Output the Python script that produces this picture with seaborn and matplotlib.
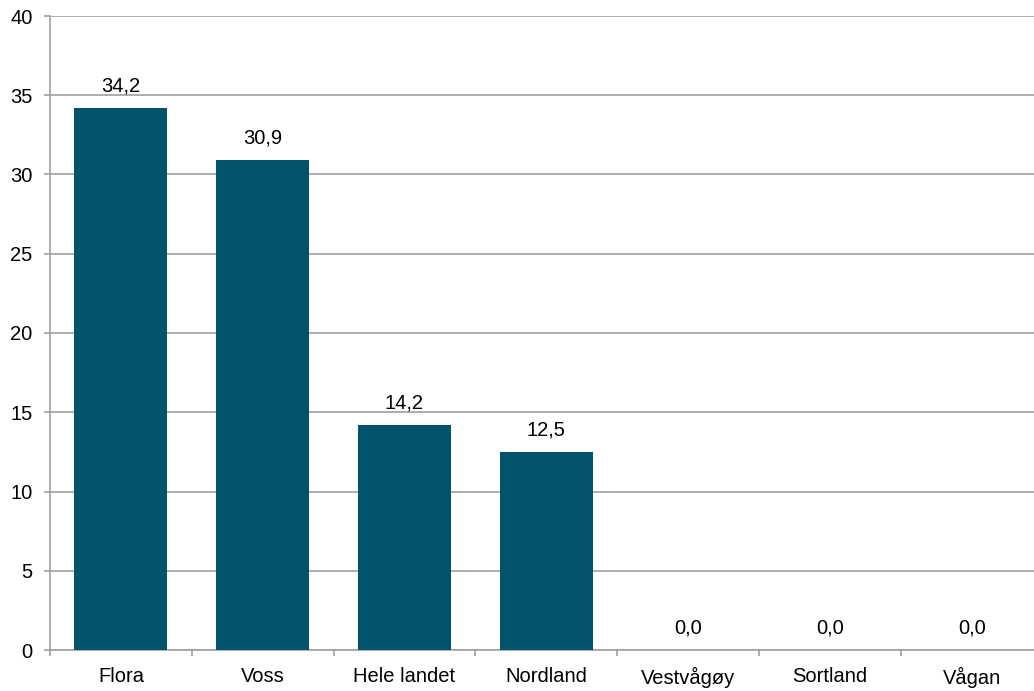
import matplotlib
matplotlib.use("Agg")
import matplotlib.pyplot as plt
import seaborn as sns
import pandas as pd
from matplotlib.ticker import FixedLocator

categories = ["Flora", "Voss", "Hele landet", "Nordland", "Vestvågøy", "Sortland", "Vågan"]
values = [34.2, 30.9, 14.2, 12.5, 0.0, 0.0, 0.0]
y_ticks = [0, 5, 10, 15, 20, 25, 30, 35, 40]

sns.set_theme(style="white")
plt.rcParams['font.family'] = ['Liberation Sans', 'DejaVu Sans']

df = pd.DataFrame({"kategori": categories, "verdi": values})

fig = plt.figure(figsize=(10.34, 6.91), dpi=100)
ax = fig.add_axes([50/1034, 41/691, 992.6/1034, 634/691])

grid_col = "#a0a0a0"
bar_col = "#02546d"

sns.barplot(data=df, x="kategori", y="verdi", color=bar_col, saturation=1,
            width=0.656, ax=ax, zorder=3, linewidth=0)

ax.set_ylim(0, 40)
ax.set_xlim(-0.5, len(categories) - 0.5)
ax.set_yticks(y_ticks)
ax.yaxis.grid(True, color=grid_col, linewidth=1.2, zorder=0)
ax.set_axisbelow(True)
ax.set_xlabel("")
ax.set_ylabel("")

for s in ["top", "right"]:
    ax.spines[s].set_visible(False)
for s in ["left", "bottom"]:
    ax.spines[s].set_color(grid_col)
    ax.spines[s].set_linewidth(1.2)

ax.tick_params(axis="y", which="major", direction="out", length=4.5, width=1.2,
               color=grid_col, pad=8, labelsize=14.5, labelcolor="black", left=True)
ax.tick_params(axis="x", which="major", length=0, pad=12, labelsize=14.5, labelcolor="black")
ax.xaxis.set_minor_locator(FixedLocator([i + 0.5 for i in range(-1, len(categories))]))
ax.tick_params(axis="x", which="minor", direction="out", length=4.5, width=1.2,
               color=grid_col, bottom=True)

labels = [f"{v:.1f}".replace(".", ",") for v in values]
ax.bar_label(ax.containers[0], labels=labels, padding=9, fontsize=14.5, color="black")

fig.savefig("out.png", dpi=100)
